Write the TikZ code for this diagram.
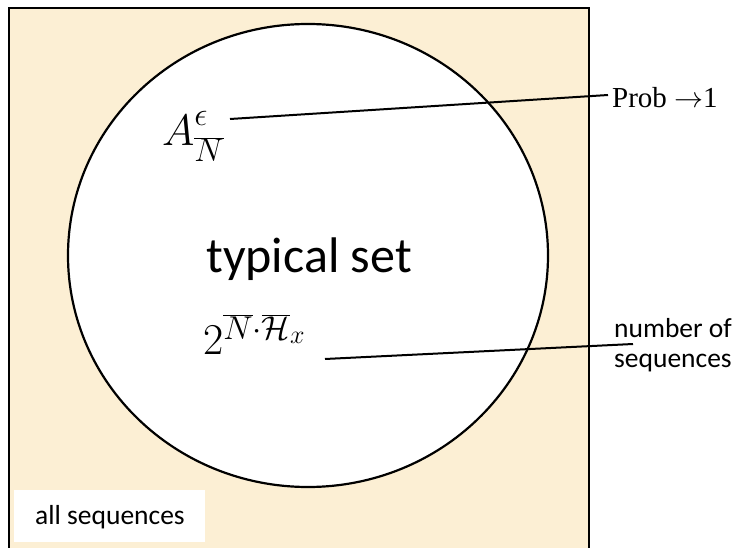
\RequirePackage{fix-cm}
\documentclass[tikz,border=0pt]{standalone}
\usepackage{fontspec}
\setmainfont{Carlito}
\newfontfamily\serifface{Liberation Serif}
\DeclareMathSizes{44}{44}{33}{26}
\usetikzlibrary{shapes.geometric}
\definecolor{bgc}{RGB}{252,239,212}
\tikzset{
  frame/.style={draw, line width=2pt, fill=bgc, inner sep=0pt},
  setshape/.style={draw, ellipse, fill=white, line width=2.2pt, inner sep=0pt},
  conn/.style={line width=2pt},
  lab/.style={font=\fontsize{27.5}{30}\selectfont, inner sep=0pt},
  bigmath/.style={font=\fontsize{44}{48}\selectfont, inner sep=0pt},
}
\begin{document}
\begin{tikzpicture}[x=1pt,y=-1pt]
\useasboundingbox (0,0) rectangle (737,548);
\clip (0,0) rectangle (737,548);
\fill[white] (0,0) rectangle (737,548);
\node[frame, minimum width=580pt, minimum height=620pt, anchor=north west] (all) at (8,7) {};
\node[setshape, minimum width=480pt, minimum height=463pt] (ts) at (308,255.5) {};
\node[font=\fontsize{50}{54}\selectfont, inner sep=0pt, anchor=base] (tstext) at (309,273) {typical set};
\node[bigmath, anchor=base west] (A) at (162,146) {$A^{\raisebox{5pt}{$\scriptstyle\epsilon$}}_{\raisebox{-5pt}{$\scriptstyle\overline{N}$}}$};
\node[bigmath, anchor=base west] (cnt) at (203,355) {$2^{\overline{N}\cdot\overline{\mathcal H}_x}$};
\node[font=\serifface\fontsize{29}{32}\selectfont, inner sep=0pt, anchor=base west] (prob) at (612,108) {Prob $\rightarrow$1};
\node[lab, align=left, anchor=base west] (num) at (614,367) {number of\\sequences};
\node[fill=white, minimum width=191pt, minimum height=52pt, inner sep=0pt, anchor=north west] (allbox) at (14,490) {};
\node[lab, anchor=base west] (alltext) at (35,524) {all sequences};
\coordinate (a1) at (230,119);
\coordinate (a2) at (608,95);
\coordinate (c1) at (325,359);
\coordinate (c2) at (633,344);
\draw[conn] (a1) -- (a2);
\draw[conn] (c1) -- (c2);
\end{tikzpicture}
\end{document}
